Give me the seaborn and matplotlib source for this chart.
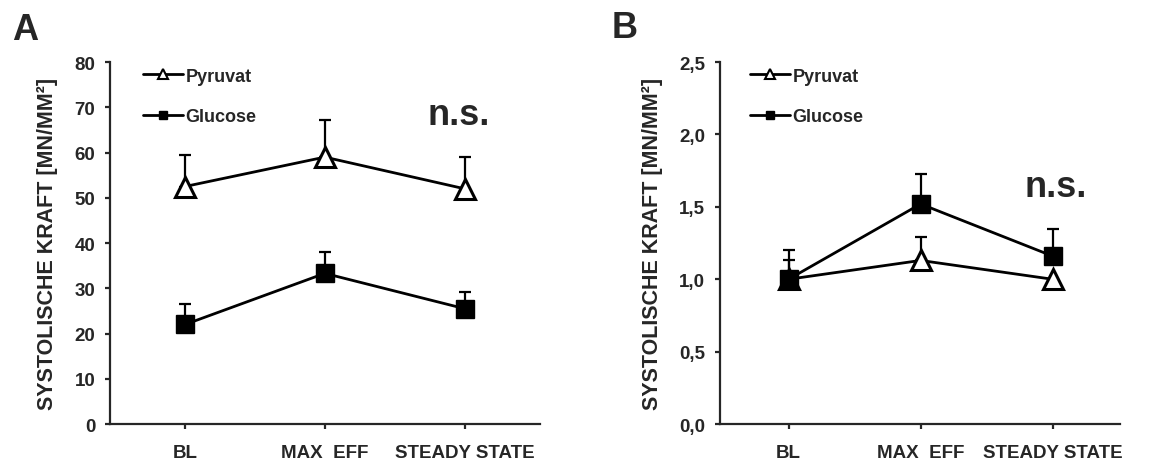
import numpy as np
import pandas as pd
import seaborn as sns
import matplotlib
matplotlib.use("Agg")
import matplotlib.pyplot as plt
from matplotlib.lines import Line2D

sns.set_style("ticks")
plt.rcParams['font.family'] = ['Liberation Sans', 'DejaVu Sans']
plt.rcParams['font.weight'] = 'bold'

categories = ["BL", "MAX  EFF", "STEADY STATE"]

# Panel A (absolute)
a_pyruvat = [52.5, 59.0, 52.0]
a_pyruvat_err = [7.0, 8.2, 7.0]
a_glucose = [22.0, 33.3, 25.5]
a_glucose_err = [4.5, 4.7, 3.6]

# Panel B (normalized)
b_pyruvat = [1.00, 1.13, 1.00]
b_pyruvat_err = [0.13, 0.16, 0.0]
b_glucose = [1.00, 1.52, 1.16]
b_glucose_err = [0.20, 0.21, 0.19]

ylabel = "SYSTOLISCHE KRAFT [MN/MM²]"

fig = plt.figure(figsize=(11.63, 4.64), dpi=100)
axA = fig.add_axes([0.0946, 0.084, 0.3698, 0.780])
axB = fig.add_axes([0.619, 0.084, 0.344, 0.780])

def draw(ax, pyr, pyr_err, glu, glu_err, ylim, yticks, yticklabels, xlim, ns_xy, leg_x):
    x = np.arange(len(categories))
    df = pd.DataFrame({"x": np.concatenate([x, x]),
                       "y": pyr + glu,
                       "series": ["Pyruvat"] * 3 + ["Glucose"] * 3})
    # error bars (upper only)
    ax.errorbar(x, pyr, yerr=[np.zeros(3), pyr_err], fmt='none', ecolor='black',
                elinewidth=1.6, capsize=4.5, capthick=1.6, zorder=1)
    ax.errorbar(x, glu, yerr=[np.zeros(3), glu_err], fmt='none', ecolor='black',
                elinewidth=1.6, capsize=4.5, capthick=1.6, zorder=1)
    sns.lineplot(data=df[df.series == "Pyruvat"], x="x", y="y", ax=ax, color='black',
                 lw=2.0, marker='^', markersize=15, markerfacecolor='white',
                 markeredgecolor='black', markeredgewidth=2.2, zorder=3, legend=False)
    sns.lineplot(data=df[df.series == "Glucose"], x="x", y="y", ax=ax, color='black',
                 lw=2.0, marker='s', markersize=13, markerfacecolor='black',
                 markeredgecolor='black', markeredgewidth=1.0, zorder=4, legend=False)
    ax.set_xlim(*xlim)
    ax.set_ylim(*ylim)
    ax.set_yticks(yticks)
    ax.set_yticklabels(yticklabels, fontsize=13.5, fontweight='bold')
    ax.set_xticks(x)
    ax.set_xticklabels(categories, fontsize=13.5, fontweight='bold')
    ax.tick_params(axis='x', length=3.5, width=1.6, pad=11)
    ax.tick_params(axis='y', length=3.5, width=1.6, pad=7)
    ax.set_xlabel("")
    ax.set_ylabel(ylabel, fontsize=15.5, fontweight='bold', labelpad=12)
    for s in ['top', 'right']:
        ax.spines[s].set_visible(False)
    for s in ['left', 'bottom']:
        ax.spines[s].set_linewidth(1.6)
    ax.text(ns_xy[0], ns_xy[1], "n.s.", fontsize=26, fontweight='bold', ha='center', va='center')
    handles = [Line2D([0], [0], color='black', lw=2, marker='^', markersize=7,
                      markerfacecolor='white', markeredgewidth=1.5),
               Line2D([0], [0], color='black', lw=2, marker='s', markersize=6,
                      markerfacecolor='black')]
    leg = ax.legend(handles, ["Pyruvat", "Glucose"], loc='upper left',
                    bbox_to_anchor=(leg_x, 0.985), frameon=False, fontsize=13,
                    handlelength=2.2, handletextpad=0.15, labelspacing=1.3,
                    borderpad=0, borderaxespad=0)
    for t in leg.get_texts():
        t.set_fontweight('bold')

draw(axA, a_pyruvat, a_pyruvat_err, a_glucose, a_glucose_err,
     (0, 80), range(0, 81, 10), [str(v) for v in range(0, 81, 10)],
     (-0.536, 2.54), (1.96, 68.5), 0.077)
draw(axB, b_pyruvat, b_pyruvat_err, b_glucose, b_glucose_err,
     (0, 2.5), np.arange(0, 2.51, 0.5), ["0,0", "0,5", "1,0", "1,5", "2,0", "2,5"],
     (-0.52, 2.51), (2.02, 1.64), 0.075)

fig.text(0.010, 0.914, "A", fontsize=26, fontweight='bold', va='baseline')
fig.text(0.526, 0.918, "B", fontsize=26, fontweight='bold', va='baseline')

fig.savefig("out.png", dpi=100)
